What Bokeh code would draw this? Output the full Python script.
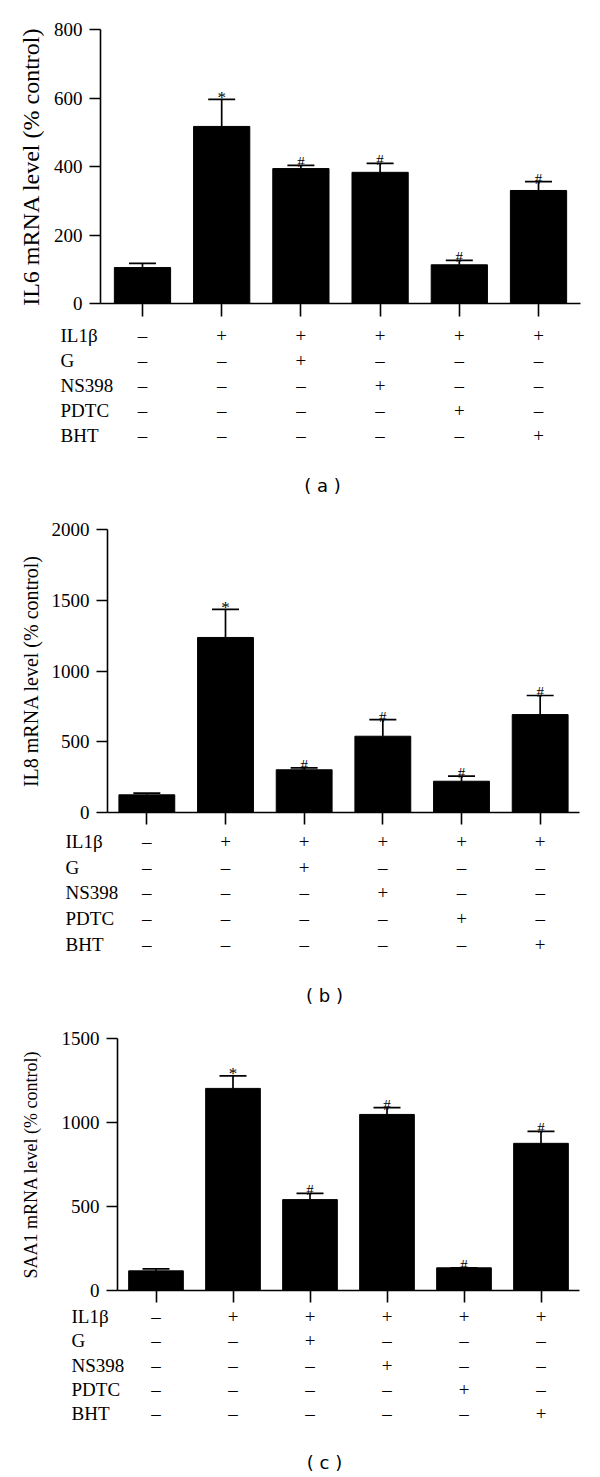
from bokeh.plotting import figure
from bokeh.models import Range1d, FactorRange, FixedTicker, Whisker, TeeHead, ColumnDataSource
from bokeh.layouts import column
from bokeh.embed import file_html
from bokeh.resources import INLINE
from bokeh.core.properties import value

# ---------------- data ----------------
group_index = [0, 1, 2, 3, 4, 5]
row_names = ["IL1β", "G", "NS398", "PDTC", "BHT"]
il1b_row = ["–", "+", "+", "+", "+", "+"]
g_row = ["–", "–", "+", "–", "–", "–"]
ns398_row = ["–", "–", "–", "+", "–", "–"]
pdtc_row = ["–", "–", "–", "–", "+", "–"]
bht_row = ["–", "–", "–", "–", "–", "+"]
sig_marks = ["", "*", "#", "#", "#", "#"]

il6_mean = [105, 517, 394, 383, 113, 330]
il6_err = [12, 79, 9, 26, 13, 26]
il8_mean = [125, 1237, 302, 539, 221, 692]
il8_err = [12, 198, 14, 118, 36, 135]
saa1_mean = [117, 1203, 541, 1048, 135, 876]
saa1_err = [12, 75, 37, 40, 0, 71]

il6_ticks = [0, 200, 400, 600, 800]
il8_ticks = [0, 500, 1000, 1500, 2000]
saa1_ticks = [0, 500, 1000, 1500]

SERIF = "Liberation Serif"
W = 600


def make_panel(mean, err, ticks, ylabel, caption, g):
    left, right = g["left"], g["right"]
    xs, xe = -g["xpad"], 5 + g["xpad"]
    k = (right - left) / (xe - xs)
    p = figure(width=W, height=g["top"] + g["fh"] + g["bottom"],
               x_range=Range1d(xs, xe), y_range=Range1d(ticks[0], ticks[-1]),
               output_backend="svg", toolbar_location=None,
               min_border_left=left, min_border_right=W - right,
               min_border_top=g["top"], min_border_bottom=g["bottom"])
    p.frame_align = False
    p.outline_line_color = None
    p.grid.visible = False
    p.background_fill_color = "white"
    p.border_fill_color = "white"

    tops = [m + e for m, e in zip(mean, err)]
    src = ColumnDataSource(dict(x=group_index, mean=mean, top=tops))
    p.vbar(x="x", top="mean", bottom=0, width=0.71, source=src,
           fill_color="black", line_color="black")
    p.add_layout(Whisker(base="x", lower="mean", upper="top", source=src,
                         dimension="height", line_color="black", line_width=1.7,
                         lower_head=None,
                         upper_head=TeeHead(size=27, line_color="black", line_width=1.7)))
    star = ColumnDataSource(dict(x=[x for x, m in zip(group_index, sig_marks) if m == "*"],
                                 y=[t for t, m in zip(tops, sig_marks) if m == "*"],
                                 t=[m for m in sig_marks if m == "*"]))
    hashes = ColumnDataSource(dict(x=[x for x, m in zip(group_index, sig_marks) if m == "#"],
                                   y=[t for t, m in zip(tops, sig_marks) if m == "#"],
                                   t=[m for m in sig_marks if m == "#"]))
    p.text(x="x", y="y", text="t", source=star, text_align="center",
           text_baseline="alphabetic", y_offset=-2, text_font=value(SERIF),
           text_font_size="17px", text_color="black")
    p.text(x="x", y="y", text="t", source=hashes, text_align="center",
           text_baseline="alphabetic", y_offset=-3, text_font=value(SERIF),
           text_font_size="15px", text_color="black")

    # axes
    p.yaxis.ticker = FixedTicker(ticks=ticks)
    p.yaxis.minor_tick_line_color = None
    p.yaxis.major_tick_in = 0
    p.yaxis.major_tick_out = 11
    p.yaxis.major_label_standoff = 7
    p.yaxis.major_label_text_font = SERIF
    p.yaxis.major_label_text_font_size = "19px"
    p.yaxis.major_label_text_color = "black"
    p.yaxis.axis_label = ylabel
    p.yaxis.axis_label_text_font = SERIF
    p.yaxis.axis_label_text_font_style = "normal"
    p.yaxis.axis_label_text_font_size = g["lab_fs"]
    p.yaxis.axis_label_text_color = "black"
    p.yaxis.axis_label_standoff = g["lab_so"]
    p.xaxis.ticker = FixedTicker(ticks=group_index)
    p.xaxis.minor_tick_line_color = None
    p.xaxis.major_tick_in = 0
    p.xaxis.major_tick_out = g["xtick"]
    p.xaxis.major_label_overrides = {i: "" for i in group_index}
    p.xaxis.major_label_text_font_size = "1px"
    p.xaxis.major_label_standoff = 0
    for ax in (p.xaxis, p.yaxis):
        ax.axis_line_width = 1.6
        ax.axis_line_color = "black"
        ax.major_tick_line_width = 1.6
        ax.major_tick_line_color = "black"

    # treatment table
    ts, te = xs - left / k, xe + (W - right) / k
    factors = ["cap", "gap"] + row_names[::-1]
    t = figure(width=W, height=g["th"], x_range=Range1d(ts, te),
               y_range=FactorRange(factors=factors),
               x_axis_type=None, y_axis_type=None,
               output_backend="svg", toolbar_location=None,
               min_border_left=0, min_border_right=0,
               min_border_top=0, min_border_bottom=0)
    t.frame_align = False
    t.outline_line_color = None
    t.grid.visible = False
    rows = [il1b_row, g_row, ns398_row, pdtc_row, bht_row]
    cx, cy, ct = [], [], []
    for name, r in zip(row_names, rows):
        for i, s in zip(group_index, r):
            cx.append(i)
            cy.append(name)
            ct.append(s)
    t.text(x=cx, y=cy, text=ct, text_align="center", text_baseline="middle",
           text_font=value(SERIF), text_font_size="19px", text_color="black")
    lab_x = xs + (g["lab_px"] - left) / k
    t.text(x=[lab_x] * len(row_names), y=row_names, text=row_names,
           text_align="left", text_baseline="middle",
           text_font=value(SERIF), text_font_size="19px", text_color="black")
    cap_x = xs + (g["cap_px"] - left) / k
    t.text(x=[cap_x], y=["cap"], text=[caption], text_align="center",
           text_baseline="middle", text_font=value("DejaVu Sans"),
           text_font_size="18px", text_color="black")
    return [p, t]


geo_a = dict(left=100, right=580, xpad=0.53, top=29, fh=274, bottom=20, xtick=13,
             lab_fs="24px", lab_so=7, th=174, lab_px=60, cap_px=322)
geo_b = dict(left=107, right=579, xpad=0.5, top=32, fh=283, bottom=16, xtick=12,
             lab_fs="20px", lab_so=7, th=180, lab_px=65, cap_px=324)
geo_c = dict(left=117, right=579, xpad=0.5, top=30, fh=252, bottom=14, xtick=12,
             lab_fs="18px", lab_so=18, th=170, lab_px=71, cap_px=324)

children = []
children += make_panel(il6_mean, il6_err, il6_ticks, "IL6 mRNA level (% control)", "( a )", geo_a)
children += make_panel(il8_mean, il8_err, il8_ticks, "IL8 mRNA level (% control)", "( b )", geo_b)
children += make_panel(saa1_mean, saa1_err, saa1_ticks, "SAA1 mRNA level (% control)", "( c )", geo_c)

layout = column(*children, spacing=0)
open("out.html", "w").write(file_html(layout, INLINE))
